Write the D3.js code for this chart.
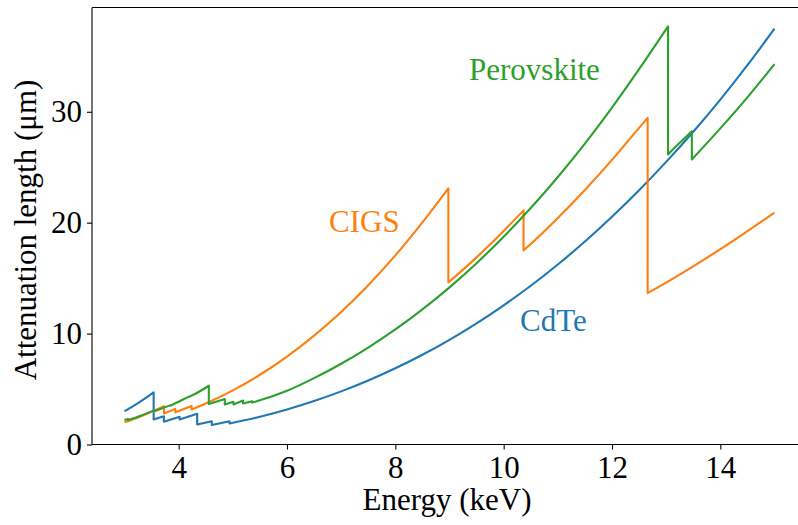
<!DOCTYPE html>
<html>
<head>
<meta charset="utf-8">
<script src="https://cdn.jsdelivr.net/npm/d3@7"></script>
<style>
  html, body { margin: 0; padding: 0; background: #fff; }
  svg { display: block; }
  text { font-family: "Liberation Serif", "Times New Roman", serif; }
</style>
</head>
<body>
<svg id="chart" width="798" height="525"></svg>
<script>
// Attenuation length (µm) versus photon energy (keV) for three absorber materials.
// Repeated energies mark absorption edges (value just below, then just above).

const cdteEnergy = [3.0, 3.25, 3.538, 3.538, 3.727, 3.727, 4.018, 4.018, 4.341, 4.341, 4.612, 4.612, 4.939, 4.939,
  5.5, 6.0, 6.5, 7.0, 7.5, 8.0, 8.5, 9.0, 9.5, 10.0, 10.5, 11.0, 11.5, 12.0, 12.5, 13.0, 13.5, 14.0, 14.5, 15.0];
const cdteLength = [3.0, 3.73, 4.7, 2.25, 2.55, 2.05, 2.5, 2.25, 2.77, 1.8, 2.1, 1.75, 2.1, 1.9,
  2.5, 3.16, 3.92, 4.79, 5.77, 6.87, 8.09, 9.44, 10.92, 12.55, 14.31, 16.23, 18.3, 20.53, 22.92, 25.48, 28.2, 31.1, 34.2, 37.5];

const cigsEnergy = [3.0, 3.25, 3.5, 3.73, 3.73, 3.938, 3.938, 4.238, 4.238, 4.5, 5.0, 5.5, 6.0, 6.5, 7.0, 7.5, 8.0, 8.5,
  8.979, 8.979, 9.5, 10.0, 10.367, 10.367, 10.5, 11.0, 11.5, 12.0, 12.5, 12.658, 12.658, 13.0, 13.5, 14.0, 14.5, 15.0];
const cigsLength = [2.0, 2.44, 2.94, 3.45, 2.8, 3.21, 2.9, 3.48, 3.15, 3.69, 4.88, 6.29, 7.93, 9.82, 11.95, 14.36, 17.05, 20.03,
  23.1, 14.6, 16.87, 19.25, 21.1, 17.5, 18.08, 20.43, 22.95, 25.66, 28.55, 29.45, 13.65, 14.6, 16.06, 17.61, 19.24, 20.9];

const perovskiteEnergy = [3.0, 3.066, 3.066, 3.3, 3.554, 3.554, 3.851, 3.851, 4.1, 4.3, 4.557, 4.557, 4.852, 4.852,
  5.012, 5.012, 5.188, 5.188, 5.359, 5.359, 5.5, 6.0, 6.5, 7.0, 7.5, 8.0, 8.5, 9.0, 9.5, 10.0, 10.5, 11.0,
  11.5, 12.0, 12.5, 13.035, 13.035, 13.25, 13.474, 13.474, 14.0, 14.5, 15.0];
const perovskiteLength = [2.2, 2.3, 2.2, 2.6, 3.1, 3.0, 3.55, 3.5, 4.1, 4.55, 5.3, 3.65, 4.1, 3.6,
  3.85, 3.6, 3.97, 3.7, 3.9, 3.78, 3.98, 4.84, 5.98, 7.28, 8.74, 10.37, 12.18, 14.17, 16.35, 18.73, 21.32, 24.12,
  27.13, 30.37, 33.84, 37.7, 26.15, 27.2, 28.25, 25.7, 28.5, 31.3, 34.3];

const xTicks = [4, 6, 8, 10, 12, 14];
const yTicks = [0, 10, 20, 30];

const series = [
  { name: "CdTe", energy: cdteEnergy, length: cdteLength, color: "#1f77b4", label: [520, 331] },
  { name: "CIGS", energy: cigsEnergy, length: cigsLength, color: "#ff7f0e", label: [329, 232] },
  { name: "Perovskite", energy: perovskiteEnergy, length: perovskiteLength, color: "#2ca02c", label: [469, 80] }
];

const svg = d3.select("#chart");
const plotLeft = 92, plotRight = 807, plotTop = 7.5, plotBottom = 444.5;
const fontSize = 31;

const x = d3.scaleLinear().domain([2.4, 15.6]).range([plotLeft, plotRight]);
const y = d3.scaleLinear().domain([0, 39.4]).range([plotBottom, plotTop]);

// Smooth curve within each edge-free segment; vertical jumps at the edges.
const segLine = d3.line().x(d => x(d[0])).y(d => y(d[1])).curve(d3.curveMonotoneX);
function seriesPath(energy, length) {
  const pts = energy.map((e, i) => [e, length[i]]);
  const segments = [];
  let cur = [pts[0]];
  for (let i = 1; i < pts.length; i++) {
    if (pts[i][0] === pts[i - 1][0]) { segments.push(cur); cur = [pts[i]]; }
    else cur.push(pts[i]);
  }
  segments.push(cur);
  return segments.map((s, i) => {
    const p = s.length === 1 ? `M${x(s[0][0])},${y(s[0][1])}` : segLine(s);
    return i === 0 ? p : "L" + p.slice(1);
  }).join("");
}

const plot = svg.append("g");
series.forEach(s => {
  plot.append("path")
    .attr("d", seriesPath(s.energy, s.length))
    .attr("fill", "none")
    .attr("stroke", s.color)
    .attr("stroke-width", 2.1)
    .attr("stroke-linejoin", "round");
});

// Axes
const xAxis = svg.append("g").attr("transform", `translate(0,${plotBottom})`)
  .call(d3.axisBottom(x).tickValues(xTicks).tickFormat(d3.format("d")).tickSize(5).tickPadding(6.5));
const yAxis = svg.append("g").attr("transform", `translate(${plotLeft},0)`)
  .call(d3.axisLeft(y).tickValues(yTicks).tickFormat(d3.format("d")).tickSize(5).tickPadding(5));
[xAxis, yAxis].forEach(g => {
  g.select(".domain").remove();
  g.selectAll(".tick line").attr("stroke", "#000").attr("stroke-width", 1.1);
  g.selectAll(".tick text").attr("fill", "#000")
    .style("font-size", fontSize + "px")
    .style("font-family", "'Liberation Serif', 'Times New Roman', serif");
});

// Frame
const frame = svg.append("g").attr("stroke", "#000").attr("stroke-width", 1.1).attr("fill", "none");
frame.append("line").attr("x1", plotLeft).attr("x2", plotLeft).attr("y1", plotTop).attr("y2", plotBottom);
frame.append("line").attr("x1", plotLeft).attr("x2", plotRight).attr("y1", plotBottom).attr("y2", plotBottom);
frame.append("line").attr("x1", plotLeft).attr("x2", plotRight).attr("y1", plotTop).attr("y2", plotTop);
frame.append("line").attr("x1", plotRight).attr("x2", plotRight).attr("y1", plotTop).attr("y2", plotBottom);

// Axis titles
svg.append("text")
  .attr("x", (plotLeft + 798) / 2 + 2).attr("y", 510)
  .attr("text-anchor", "middle")
  .style("font-size", fontSize + "px")
  .text("Energy (keV)");
svg.append("text")
  .attr("transform", `translate(36,${(plotTop + plotBottom) / 2 + 4}) rotate(-90)`)
  .attr("text-anchor", "middle")
  .style("font-size", fontSize + "px")
  .text("Attenuation length (μm)");

// Series labels
series.forEach(s => {
  svg.append("text")
    .attr("x", s.label[0]).attr("y", s.label[1])
    .attr("fill", s.color)
    .style("font-size", fontSize + "px")
    .text(s.name);
});
</script>
</body>
</html>
